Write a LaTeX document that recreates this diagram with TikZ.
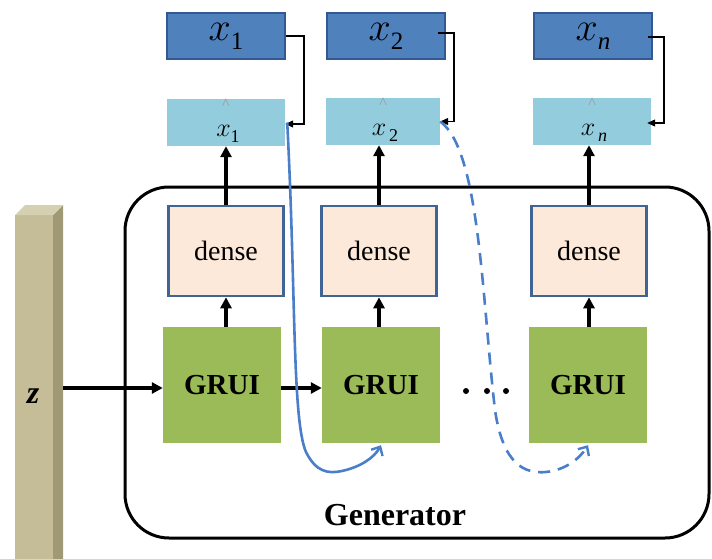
\RequirePackage{fix-cm}
\documentclass[tikz,border=0pt]{standalone}
\usepackage{fontspec}
\setmainfont{Liberation Serif}
\usetikzlibrary{arrows.meta}
\definecolor{dkblue}{RGB}{79,129,189}
\definecolor{dkborder}{RGB}{52,88,145}
\definecolor{ltblue}{RGB}{147,205,221}
\definecolor{peach}{RGB}{253,233,217}
\definecolor{peachborder}{RGB}{64,100,150}
\definecolor{grgreen}{RGB}{155,187,89}
\definecolor{barfront}{RGB}{196,189,151}
\definecolor{barside}{RGB}{160,153,118}
\definecolor{bartop}{RGB}{214,208,178}
\definecolor{curveblue}{RGB}{74,126,200}
\newcommand{\bigx}[1]{{\fontsize{40}{40}\selectfont$x$\raisebox{-0.22em}{\fontsize{25}{25}\selectfont #1}}}
\newcommand{\smallx}[1]{{\fontsize{26}{26}\selectfont$x$\raisebox{-0.2em}{\fontsize{18}{18}\selectfont #1}}}
\begin{document}
\begin{tikzpicture}[x=1pt,y=1pt,
  darkbox/.style={draw=dkborder,line width=2pt,fill=dkblue,minimum width=118pt,minimum height=46pt,inner sep=0pt},
  lightbox/.style={fill=ltblue,minimum width=118pt,minimum height=47pt,inner sep=0pt},
  hatmark/.style={text=gray!80,font=\fontsize{16}{16}\selectfont,inner sep=0pt},
  densebox/.style={draw=peachborder,line width=2.6pt,fill=peach,minimum width=115pt,minimum height=90pt,inner sep=0pt,font=\fontsize{28}{28}\selectfont},
  gruibox/.style={fill=grgreen,minimum width=118pt,minimum height=116pt,inner sep=0pt,font=\fontsize{29}{29}\selectfont\bfseries},
  arr/.style={line width=3.2pt,-{Triangle[length=11pt,width=11pt]}},
  fb/.style={line width=1.2pt,-{Triangle[length=8pt,width=7pt]}},
  loopline/.style={curveblue,line width=2.6pt,-{Straight Barb[length=7pt,width=13pt,line width=2.4pt]}}
]
\useasboundingbox (0,0) rectangle (712,-559);

% generator frame
\draw[line width=3pt,rounded corners=44pt] (125,-187) rectangle (709,-538);
\node[font=\fontsize{32}{32}\selectfont\bfseries] (gen) at (395,-515) {Generator};

% z bar
\fill[barfront] (15,-215) rectangle (53,-562);
\fill[barside] (53,-215) -- (63,-205) -- (63,-562) -- (53,-562) -- cycle;
\fill[bartop] (15,-215) -- (25,-205) -- (63,-205) -- (53,-215) -- cycle;
\node[font=\fontsize{32}{32}\selectfont\bfseries\itshape] (z) at (33,-396) {z};
\coordinate (zout) at (63,-388);

% top boxes
\node[darkbox] (d1) at (226,-36) {\bigx{1}};
\node[darkbox] (d2) at (386,-36) {\bigx{2}};
\node[darkbox] (d3) at (593,-36) {\bigx{\textit{n}}};

\node[lightbox] (h1) at (226,-122.5) {};
\node[lightbox,minimum width=114pt] (h2) at (383,-121.5) {};
\node[lightbox] (h3) at (592,-121.5) {};
\node[hatmark] (hat1) at (226,-104) {\^{}};
\node[hatmark] (hat2) at (383,-103) {\^{}};
\node[hatmark] (hat3) at (592,-103) {\^{}};
\node[inner sep=0pt] (lx1) at (228,-134) {\smallx{1}};
\node[inner sep=0pt] (lx2) at (385,-133) {\smallx{\,2}};
\node[inner sep=0pt] (lx3) at (594,-133) {\smallx{\,\textit{n}}};

% dense
\node[densebox] (e1) at (226,-251) {dense};
\node[densebox] (e2) at (379,-251) {dense};
\node[densebox] (e3) at (589,-251) {dense};

% GRUI
\node[gruibox] (g1) at (222,-385) {GRUI};
\node[gruibox] (g2) at (381,-385) {GRUI};
\node[gruibox] (g3) at (588,-385) {GRUI};

% dots
\fill (466,-391) circle (3pt);
\fill (487,-391) circle (3pt);
\fill (506,-391) circle (3pt);

% arrows
\draw[arr] (zout) -- (g1.west |- zout);
\draw[arr] (g1.east |- zout) -- (g2.west |- zout);
\foreach \i in {1,2,3}{
  \draw[arr] (g\i.north -| e\i.south) -- (e\i.south);
}
\draw[arr] (e1.north) -- (h1.south -| e1.north);
\draw[arr] (e2.north) -- (h2.south -| e2.north);
\draw[arr] (e3.north) -- (h3.south -| e3.north);

% feedback from ground truth
\draw[fb] ([yshift=0pt]d1.east) -- ++(18,0) |- ([yshift=-1.5pt]h1.east);
\draw[fb] ([xshift=-8pt,yshift=3pt]d2.east) -- ++(16,0) |- (h2.east);
\draw[fb] ([xshift=-5pt,yshift=-1pt]d3.east) -- ++(16,0) |- ([xshift=-4pt,yshift=-1.5pt]h3.east);

% loop curves
\draw[loopline] ([xshift=2pt]h1.east) .. controls (296,-290) and (292,-420) .. (306,-452)
   .. controls (316,-472) and (328,-474) .. (342,-471)
   .. controls (360,-467) and (374,-458) .. ([yshift=-2pt]g2.south);
\draw[loopline,dash pattern=on 12pt off 8pt] (h2.east) .. controls (480,-150) and (482,-300) .. (495,-410)
   .. controls (503,-465) and (525,-474) .. (546,-472)
   .. controls (566,-470) and (580,-458) .. ([yshift=-2pt]g3.south);
\end{tikzpicture}
\end{document}
